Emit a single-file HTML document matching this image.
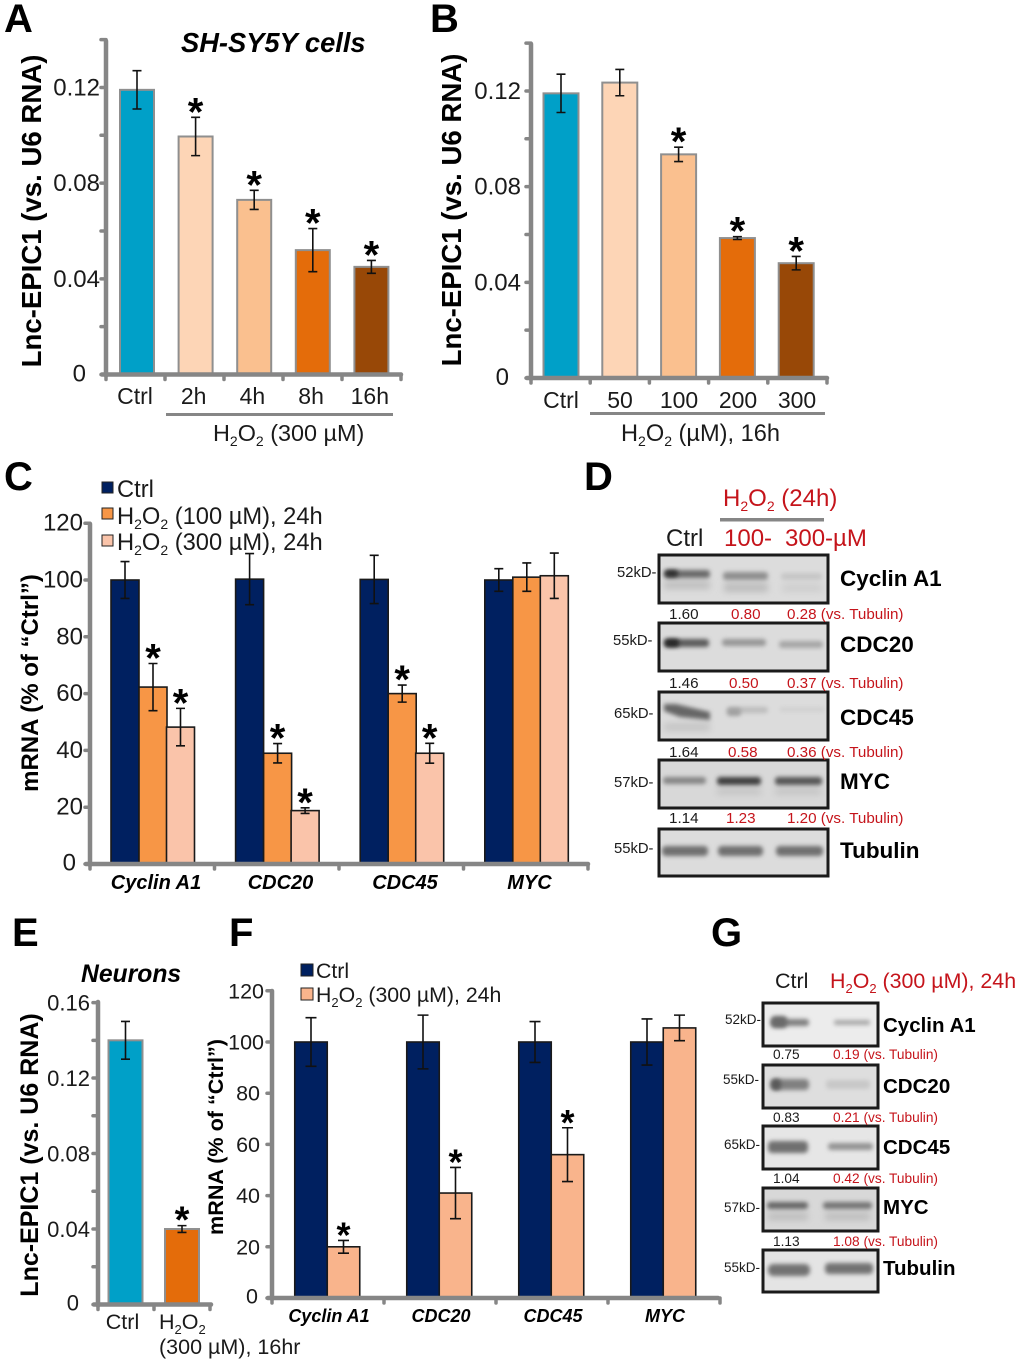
<!DOCTYPE html>
<html lang="en">
<head>
<meta charset="utf-8">
<title>Lnc-EPIC1 figure</title>
<style>
html,body{margin:0;padding:0;background:#fff;width:1020px;height:1363px;overflow:hidden}
svg{display:block}
text{font-family:"Liberation Sans",Arial,sans-serif;fill:#1a1a1a}
.p{font-size:40px;font-weight:bold;fill:#000}
.b{font-weight:bold;fill:#000}
.r{fill:#c5141b}
</style>
</head>
<body>
<svg id="fig" xmlns="http://www.w3.org/2000/svg" width="1020" height="1363" viewBox="0 0 1020 1363">
<defs>
<filter id="b1" filterUnits="userSpaceOnUse" x="0" y="0" width="1020" height="1363"><feGaussianBlur stdDeviation="2.2"/></filter>
<filter id="b2" filterUnits="userSpaceOnUse" x="0" y="0" width="1020" height="1363"><feGaussianBlur stdDeviation="3.5"/></filter>
</defs>

<!-- panel letters -->
<text class="p" x="4" y="32">A</text>
<text class="p" x="430" y="32">B</text>
<text class="p" x="4" y="490">C</text>
<text class="p" x="584" y="490">D</text>
<text class="p" x="12" y="946">E</text>
<text class="p" x="229" y="946">F</text>
<text class="p" x="711" y="946">G</text>

<!-- titles and annotations -->
<text class="b" x="181" y="52" font-size="27.3" font-style="italic">SH-SY5Y cells</text>
<text class="b" x="81" y="982" font-size="24.7" font-style="italic">Neurons</text>
<text class="b" font-size="27.6" text-anchor="middle" transform="translate(41,211) rotate(-90)">Lnc-EPIC1 (vs. U6 RNA)</text>
<text class="b" font-size="27.6" text-anchor="middle" transform="translate(461,210) rotate(-90)">Lnc-EPIC1 (vs. U6 RNA)</text>
<text class="b" font-size="24" text-anchor="middle" transform="translate(38,683) rotate(-90)">mRNA (% of “Ctrl”)</text>
<text class="b" font-size="25" text-anchor="middle" transform="translate(38,1155) rotate(-90)">Lnc-EPIC1 (vs. U6 RNA)</text>
<text class="b" font-size="21.6" text-anchor="middle" transform="translate(223,1137) rotate(-90)">mRNA (% of “Ctrl”)</text>

<rect x="166" y="413" width="227" height="3" fill="#868686"/>
<text x="213" y="441" font-size="23.4">H<tspan dy="5" font-size="14">2</tspan><tspan dy="-5">O</tspan><tspan dy="5" font-size="14">2</tspan><tspan dy="-5"> (300 µM)</tspan></text>
<rect x="590" y="412" width="235" height="3" fill="#868686"/>
<text x="621" y="441" font-size="23.6">H<tspan dy="5" font-size="14">2</tspan><tspan dy="-5">O</tspan><tspan dy="5" font-size="14">2</tspan><tspan dy="-5"> (µM), 16h</tspan></text>
<text x="159" y="1329" font-size="21.5">H<tspan dy="5" font-size="13">2</tspan><tspan dy="-5">O</tspan><tspan dy="5" font-size="13">2</tspan></text>
<text x="159" y="1354" font-size="21.5">(300 µM), 16hr</text>

<!-- legends -->
<g>
<rect x="102" y="482" width="11" height="11" fill="#002060" stroke="#222" stroke-width="1"/>
<text x="117" y="497" font-size="23.7">Ctrl</text>
<rect x="102" y="508" width="11" height="11" fill="#f79646" stroke="#222" stroke-width="1"/>
<text x="117" y="524" font-size="23.7">H<tspan dy="5" font-size="14">2</tspan><tspan dy="-5">O</tspan><tspan dy="5" font-size="14">2</tspan><tspan dy="-5"> (100 µM), 24h</tspan></text>
<rect x="102" y="535" width="11" height="11" fill="#fac4aa" stroke="#222" stroke-width="1"/>
<text x="117" y="550" font-size="23.7">H<tspan dy="5" font-size="14">2</tspan><tspan dy="-5">O</tspan><tspan dy="5" font-size="14">2</tspan><tspan dy="-5"> (300 µM), 24h</tspan></text>
</g>
<g>
<rect x="301" y="964" width="12" height="12" fill="#002060" stroke="#222" stroke-width="1"/>
<text x="316" y="978" font-size="21.3">Ctrl</text>
<rect x="301" y="988" width="12" height="12" fill="#f9b48c" stroke="#222" stroke-width="1"/>
<text x="316" y="1002" font-size="21.3">H<tspan dy="5" font-size="13">2</tspan><tspan dy="-5">O</tspan><tspan dy="5" font-size="13">2</tspan><tspan dy="-5"> (300 µM), 24h</tspan></text>
</g>

<!-- Panel D: western blot -->
<g>
<text class="r" x="723" y="506" font-size="24">H<tspan dy="5" font-size="14">2</tspan><tspan dy="-5">O</tspan><tspan dy="5" font-size="14">2</tspan><tspan dy="-5"> (24h)</tspan></text>
<rect x="720" y="518" width="104" height="3.5" fill="#868686"/>
<text x="666" y="546" font-size="24">Ctrl</text>
<text class="r" x="724" y="546" font-size="24">100-</text>
<text class="r" x="785" y="546" font-size="24">300-µM</text>

<g>
<rect x="659" y="555" width="169" height="48" fill="#dcdcdc"/>
<rect x="664" y="581" width="46" height="8" fill="#bdbdbd" filter="url(#b2)"/>
<rect x="724" y="583" width="44" height="9" fill="#bcbcbc" filter="url(#b2)"/>
<rect x="782" y="584" width="40" height="8" fill="#cecece" filter="url(#b2)"/>
<rect x="664" y="570" width="46" height="8" rx="3" fill="#6b6b6b" filter="url(#b1)"/>
<rect x="665" y="570" width="13" height="7" rx="3" fill="#2e2e2e" filter="url(#b1)"/>
<rect x="723" y="572" width="45" height="8" rx="3" fill="#8f8f8f" filter="url(#b1)"/>
<rect x="781" y="573" width="41" height="7" rx="3" fill="#c6c6c6" filter="url(#b1)"/>
<rect x="659" y="555" width="169" height="48" fill="none" stroke="#1a1a1a" stroke-width="3"/>
</g>
<g>
<rect x="659" y="623" width="169" height="48" fill="#dcdcdc"/>
<rect x="664" y="639" width="45" height="8" rx="3" fill="#5c5c5c" filter="url(#b1)"/>
<rect x="665" y="639" width="14" height="8" rx="3" fill="#262626" filter="url(#b1)"/>
<rect x="722" y="639" width="44" height="7" rx="3" fill="#969696" filter="url(#b1)"/>
<rect x="779" y="641" width="44" height="7" rx="3" fill="#a6a6a6" filter="url(#b1)"/>
<rect x="659" y="623" width="169" height="48" fill="none" stroke="#1a1a1a" stroke-width="3"/>
</g>
<g>
<rect x="659" y="692" width="169" height="48" fill="#dcdcdc"/>
<rect x="664" y="723" width="46" height="8" fill="#c4c4c4" filter="url(#b2)"/>
<polygon points="664,704 676,704 710,712 710,720 680,717 664,711" fill="#666" filter="url(#b1)"/>
<rect x="727" y="707" width="41" height="6" rx="3" fill="#bcbcbc" filter="url(#b1)"/>
<rect x="727" y="708" width="14" height="8" rx="3" fill="#a0a0a0" filter="url(#b1)"/>
<rect x="780" y="707" width="44" height="5" rx="2" fill="#d0d0d0" filter="url(#b1)"/>
<rect x="659" y="692" width="169" height="48" fill="none" stroke="#1a1a1a" stroke-width="3"/>
</g>
<g>
<rect x="659" y="760" width="169" height="48" fill="#d8d8d8"/>
<rect x="717" y="788" width="44" height="7" fill="#c4c4c4" filter="url(#b2)"/>
<rect x="775" y="788" width="46" height="7" fill="#c4c4c4" filter="url(#b2)"/>
<rect x="663" y="777" width="43" height="7" rx="3" fill="#858585" filter="url(#b1)"/>
<rect x="717" y="777" width="44" height="8" rx="3" fill="#404040" filter="url(#b1)"/>
<rect x="775" y="777" width="47" height="8" rx="3" fill="#565656" filter="url(#b1)"/>
<rect x="659" y="760" width="169" height="48" fill="none" stroke="#1a1a1a" stroke-width="3"/>
</g>
<g>
<rect x="659" y="829" width="169" height="47" fill="#dcdcdc"/>
<rect x="662" y="846" width="46" height="10" rx="4" fill="#707070" filter="url(#b1)"/>
<rect x="718" y="846" width="45" height="10" rx="4" fill="#707070" filter="url(#b1)"/>
<rect x="776" y="846" width="47" height="10" rx="4" fill="#707070" filter="url(#b1)"/>
<rect x="659" y="829" width="169" height="47" fill="none" stroke="#1a1a1a" stroke-width="3"/>
</g>

<g font-size="14.8">
<text x="617" y="577">52kD-</text>
<text x="613" y="645">55kD-</text>
<text x="614" y="718">65kD-</text>
<text x="614" y="787">57kD-</text>
<text x="614" y="853">55kD-</text>
</g>
<g font-size="15.2">
<text x="669" y="619">1.60</text>
<text class="r" x="731" y="619">0.80</text>
<text class="r" x="787" y="619">0.28 (vs. Tubulin)</text>
<text x="669" y="688">1.46</text>
<text class="r" x="729" y="688">0.50</text>
<text class="r" x="787" y="688">0.37 (vs. Tubulin)</text>
<text x="669" y="757">1.64</text>
<text class="r" x="728" y="757">0.58</text>
<text class="r" x="787" y="757">0.36 (vs. Tubulin)</text>
<text x="669" y="823">1.14</text>
<text class="r" x="726" y="823">1.23</text>
<text class="r" x="787" y="823">1.20 (vs. Tubulin)</text>
</g>
<g font-size="22.5">
<text class="b" x="840" y="586">Cyclin A1</text>
<text class="b" x="840" y="652">CDC20</text>
<text class="b" x="840" y="725">CDC45</text>
<text class="b" x="840" y="789">MYC</text>
<text class="b" x="840" y="858">Tubulin</text>
</g>
</g>

<!-- Panel G: western blot -->
<g>
<text x="775" y="988" font-size="21.5">Ctrl</text>
<text class="r" x="830" y="988" font-size="21.4">H<tspan dy="5" font-size="13">2</tspan><tspan dy="-5">O</tspan><tspan dy="5" font-size="13">2</tspan><tspan dy="-5"> (300 µM), 24h</tspan></text>

<g>
<rect x="763" y="1003" width="115" height="43" fill="#ececec"/>
<rect x="771" y="1019" width="38" height="7" rx="3" fill="#7f7f7f" filter="url(#b1)"/>
<rect x="771" y="1016" width="16" height="12" rx="4" fill="#6a6a6a" filter="url(#b1)"/>
<rect x="834" y="1020" width="36" height="5" rx="2" fill="#a8a8a8" filter="url(#b1)"/>
<rect x="763" y="1003" width="115" height="43" fill="none" stroke="#1a1a1a" stroke-width="3"/>
</g>
<g>
<rect x="763" y="1065" width="115" height="43" fill="#dedede"/>
<rect x="771" y="1079" width="38" height="11" rx="4" fill="#808080" filter="url(#b1)"/>
<rect x="771" y="1079" width="10" height="11" rx="4" fill="#585858" filter="url(#b1)"/>
<rect x="826" y="1080" width="44" height="9" rx="3" fill="#c8c8c8" filter="url(#b1)"/>
<rect x="763" y="1065" width="115" height="43" fill="none" stroke="#1a1a1a" stroke-width="3"/>
</g>
<g>
<rect x="763" y="1126" width="115" height="43" fill="#e6e6e6"/>
<rect x="768" y="1141" width="40" height="12" rx="4" fill="#707070" filter="url(#b1)"/>
<rect x="828" y="1143" width="45" height="7" rx="3" fill="#939393" filter="url(#b1)"/>
<rect x="763" y="1126" width="115" height="43" fill="none" stroke="#1a1a1a" stroke-width="3"/>
</g>
<g>
<rect x="763" y="1188" width="115" height="43" fill="#d8d8d8"/>
<rect x="768" y="1213" width="40" height="7" fill="#bbb" filter="url(#b2)"/>
<rect x="825" y="1213" width="45" height="7" fill="#bbb" filter="url(#b2)"/>
<rect x="767" y="1202" width="41" height="7" rx="3" fill="#666" filter="url(#b1)"/>
<rect x="823" y="1202" width="49" height="7" rx="3" fill="#757575" filter="url(#b1)"/>
<rect x="763" y="1188" width="115" height="43" fill="none" stroke="#1a1a1a" stroke-width="3"/>
</g>
<g>
<rect x="763" y="1250" width="115" height="42" fill="#e4e4e4"/>
<rect x="768" y="1264" width="42" height="12" rx="5" fill="#727272" filter="url(#b1)"/>
<rect x="825" y="1263" width="48" height="11" rx="4" fill="#727272" filter="url(#b1)"/>
<rect x="763" y="1250" width="115" height="42" fill="none" stroke="#1a1a1a" stroke-width="3"/>
</g>

<g font-size="13.5">
<text x="725" y="1024">52kD-</text>
<text x="723" y="1084">55kD-</text>
<text x="724" y="1149">65kD-</text>
<text x="724" y="1212">57kD-</text>
<text x="724" y="1272">55kD-</text>
</g>
<g font-size="13.7">
<text x="773" y="1059">0.75</text>
<text class="r" x="833" y="1059">0.19 (vs. Tubulin)</text>
<text x="773" y="1122">0.83</text>
<text class="r" x="833" y="1122">0.21 (vs. Tubulin)</text>
<text x="773" y="1183">1.04</text>
<text class="r" x="833" y="1183">0.42 (vs. Tubulin)</text>
<text x="773" y="1246">1.13</text>
<text class="r" x="833" y="1246">1.08 (vs. Tubulin)</text>
</g>
<g font-size="20.5">
<text class="b" x="883" y="1032">Cyclin A1</text>
<text class="b" x="883" y="1093">CDC20</text>
<text class="b" x="883" y="1154">CDC45</text>
<text class="b" x="883" y="1214">MYC</text>
<text class="b" x="883" y="1275">Tubulin</text>
</g>
</g>
<g id="charts"></g>
</svg>

<script>
/* Panel A */
var aCategories = ['Ctrl', '2h', '4h', '8h', '16h'];
var aValues = [0.119, 0.0995, 0.073, 0.052, 0.045];
var aErrors = [0.008, 0.008, 0.004, 0.009, 0.0027];
var aStars = [false, true, true, true, true];
var aTicks = ['0', '0.04', '0.08', '0.12'];
var aTickValues = [0, 0.04, 0.08, 0.12];

/* Panel B */
var bCategories = ['Ctrl', '50', '100', '200', '300'];
var bValues = [0.119, 0.1235, 0.0935, 0.0585, 0.048];
var bErrors = [0.008, 0.0055, 0.003, 0.0006, 0.0028];
var bStars = [false, false, true, true, true];
var bTicks = ['0', '0.04', '0.08', '0.12'];
var bTickValues = [0, 0.04, 0.08, 0.12];

/* Panel C */
var cCategories = ['Cyclin A1', 'CDC20', 'CDC45', 'MYC'];
var cCtrl = [100, 100.3, 100.2, 100];
var cCtrlErr = [6.5, 9, 8.5, 4];
var c100 = [62.3, 39, 60, 101];
var c100Err = [8.3, 3.4, 3, 5];
var c100Stars = [true, true, true, false];
var c300 = [48.2, 18.8, 39, 101.5];
var c300Err = [6.6, 1, 3.5, 8];
var c300Stars = [true, true, true, false];
var cTicks = ['0', '20', '40', '60', '80', '100', '120'];
var cTickValues = [0, 20, 40, 60, 80, 100, 120];

/* Panel E */
var eCategories = ['Ctrl', ''];
var eValues = [0.14, 0.04];
var eErrors = [0.01, 0.0018];
var eStars = [false, true];
var eTicks = ['0', '0.04', '0.08', '0.12', '0.16'];
var eTickValues = [0, 0.04, 0.08, 0.12, 0.16];

/* Panel F */
var fCategories = ['Cyclin A1', 'CDC20', 'CDC45', 'MYC'];
var fCtrl = [100, 100, 100, 100];
var fCtrlErr = [9.5, 10.5, 8, 9];
var f300 = [20, 41, 56, 105.5];
var f300Err = [2.5, 10, 10.5, 5];
var f300Stars = [true, true, true, false];
var fTicks = ['0', '20', '40', '60', '80', '100', '120'];
var fTickValues = [0, 20, 40, 60, 80, 100, 120];

var SVGNS = 'http://www.w3.org/2000/svg';
var root = document.getElementById('charts');

function make(parent, tag, attrs) {
  var el = document.createElementNS(SVGNS, tag);
  for (var k in attrs) el.setAttribute(k, attrs[k]);
  parent.appendChild(el);
  return el;
}

function drawYAxis(g, ax, ticks, values, minorStep) {
  var v = 0;
  while (v <= ax.max + 1e-9) {
    var yy = ax.y(v);
    var tick = make(g, 'line', {x1: ax.x - 5, x2: ax.x, y1: yy, y2: yy, stroke: '#868686', 'stroke-width': 3.5, 'stroke-linecap': 'round'});
    
    
    v += minorStep;
  }
  var line = make(g, 'line', {x1: ax.x, x2: ax.x, y1: ax.top, y2: ax.y0 + 1, stroke: '#868686', 'stroke-width': ax.sw, 'stroke-linecap': 'round'});
  
  
  for (var i = 0; i < ticks.length; i++) {
    var lx = ax.labelX;
    var ly = ax.y(values[i]) + ax.labelDy;
    if (ticks[i] === '0') {
      lx += ax.zeroDx;
      ly += ax.zeroDy;
    } else if (ticks[i].length === 2) {
      lx += ax.shortDx;
    }
    var t = make(g, 'text', {x: lx, y: ly, 'font-size': ax.fs, 'text-anchor': 'end'});
    t.textContent = ticks[i];
    
    
  }
}

function drawXAxis(g, ax) {
  var line = make(g, 'line', {x1: ax.xStart, x2: ax.xEnd, y1: ax.y0, y2: ax.y0, stroke: '#868686', 'stroke-width': ax.sw, 'stroke-linecap': 'round'});
  
  
  for (var i = 0; i <= ax.n; i++) {
    var xx = ax.x + i * ax.step;
    var tick = make(g, 'line', {x1: xx, x2: xx, y1: ax.y0, y2: ax.y0 + 5, stroke: '#868686', 'stroke-width': 3.5, 'stroke-linecap': 'round'});
    
    
  }
}

function drawBar(g, ax, cx, w, val, err, fill, stroke, star, name) {
  var top = ax.y(val);
  var r = make(g, 'rect', {x: cx - w / 2, y: top, width: w, height: ax.y0 - top - 1, fill: fill, stroke: stroke, 'stroke-width': ax.barSw});
  
  
  var hi = ax.y(val + err), lo = ax.y(val - err), cap = ax.cap;
  var e = make(g, 'path', {d: 'M' + cx + ' ' + hi + 'V' + lo + 'M' + (cx - cap) + ' ' + hi + 'H' + (cx + cap) + 'M' + (cx - cap) + ' ' + lo + 'H' + (cx + cap), stroke: '#111', 'stroke-width': 1.6, fill: 'none'});
  
  
  if (star) {
    var s = make(g, 'text', {x: cx, y: hi + ax.starDy, 'font-size': ax.starFs, 'text-anchor': 'middle', 'font-weight': 'bold'});
    s.style.fill = '#000';
    s.textContent = '*';
    
    
  }
}

function panelGroup(name) {
  var g = make(root, 'g', {});
  
  
  return g;
}

function makeAxis(o) {
  o.y = function (v) { return o.y0 - v * o.k; };
  return o;
}

function drawXLabels(g, cats, centerFn, y, fs, extra, name) {
  for (var i = 0; i < cats.length; i++) {
    if (!cats[i]) continue;
    var t = make(g, 'text', {x: centerFn(i), y: y, 'font-size': fs, 'text-anchor': 'middle'});
    if (extra) {
      t.setAttribute('font-weight', 'bold');
      t.setAttribute('font-style', 'italic');
      t.style.fill = '#000';
    }
    t.textContent = cats[i];
    
    
  }
}

/* ---- A ---- */
var colorsGraded = ['#00a0c8', '#fdd5b6', '#fac08f', '#e46c0a', '#984807'];
var gA = panelGroup('panel-a-chart');
var axA = makeAxis({x: 106, y0: 374.5, top: 41, k: 2392, max: 0.14, sw: 4.5, labelX: 100, labelDy: 8, zeroDx: -14, zeroDy: -1, shortDx: 0, fs: 24, xStart: 102, xEnd: 401, n: 5, step: 59, barSw: 2, cap: 4.5, starDy: 8, starFs: 40});
drawYAxis(gA, axA, aTicks, aTickValues, 0.02);
aValues.forEach(function (v, i) {
  drawBar(gA, axA, 137 + i * 58.6, 34, v, aErrors[i], colorsGraded[i], '#8f8f8f', aStars[i], 'bar-' + aCategories[i].toLowerCase());
});
drawXAxis(gA, axA);
drawXLabels(gA, aCategories, function (i) { return 135 + i * 58.7; }, 404, 23, false, 'x-axis-category-label');

/* ---- B ---- */
var gB = panelGroup('panel-b-chart');
var axB = makeAxis({x: 531, y0: 378, top: 44, k: 2392, max: 0.14, sw: 4.5, labelX: 521, labelDy: 8, zeroDx: -12, zeroDy: -1, shortDx: 0, fs: 24, xStart: 527, xEnd: 827, n: 5, step: 59.2, barSw: 2, cap: 4.5, starDy: 8, starFs: 40});
drawYAxis(gB, axB, bTicks, bTickValues, 0.02);
bValues.forEach(function (v, i) {
  drawBar(gB, axB, 561 + i * 58.8, 35, v, bErrors[i], colorsGraded[i], '#8f8f8f', bStars[i], 'bar-' + bCategories[i].toLowerCase());
});
drawXAxis(gB, axB);
drawXLabels(gB, bCategories, function (i) { return 561 + i * 59; }, 408, 23, false, 'x-axis-category-label');

/* ---- C ---- */
var gC = panelGroup('panel-c-chart');
var axC = makeAxis({x: 90, y0: 864, top: 524, k: 2.84, max: 120, sw: 4.5, labelX: 83, labelDy: 7.5, zeroDx: -7, zeroDy: -1, shortDx: 0, fs: 24, xStart: 86, xEnd: 588, n: 4, step: 124.5, barSw: 1.6, cap: 4.5, starDy: 8, starFs: 40});
drawYAxis(gC, axC, cTicks, cTickValues, 20);
cCategories.forEach(function (c, i) {
  var gx = 125 + i * 124.6;
  var w = 28, slug = c.toLowerCase().replace(' ', '-');
  drawBar(gC, axC, gx, w, cCtrl[i], cCtrlErr[i], '#002060', '#1a1a1a', false, 'bar-ctrl-' + slug);
  drawBar(gC, axC, gx + w, w, c100[i], c100Err[i], '#f79646', '#1a1a1a', c100Stars[i], 'bar-100um-' + slug);
  drawBar(gC, axC, gx + 2 * w - 0.5, w, c300[i], c300Err[i], '#fac4aa', '#1a1a1a', c300Stars[i], 'bar-300um-' + slug);
});
drawXAxis(gC, axC);
drawXLabels(gC, cCategories, function (i) { return 156 + i * 124.5; }, 889, 20, true, 'x-axis-category-label');

/* ---- E ---- */
var colorsE = ['#00a0c8', '#e46c0a'];
var gE = panelGroup('panel-e-chart');
var axE = makeAxis({x: 98, y0: 1304.5, top: 1002, k: 1887, max: 0.16, sw: 4.5, labelX: 90, labelDy: 8, zeroDx: -11, zeroDy: -2, shortDx: 0, fs: 22, xStart: 94, xEnd: 211, n: 2, step: 56, barSw: 2, cap: 4.5, starDy: 7, starFs: 38});
drawYAxis(gE, axE, eTicks, eTickValues, 0.02);
eValues.forEach(function (v, i) {
  drawBar(gE, axE, 125.5 + i * 56.5, 34, v, eErrors[i], colorsE[i], '#8f8f8f', eStars[i], i === 0 ? 'bar-ctrl' : 'bar-h2o2');
});
drawXAxis(gE, axE);
drawXLabels(gE, eCategories, function (i) { return 122.5 + i * 58; }, 1329, 21.5, false, 'x-axis-category-label');

/* ---- F ---- */
var gF = panelGroup('panel-f-chart');
var axF = makeAxis({x: 272, y0: 1298, top: 991, k: 2.56, max: 120, sw: 4.5, labelX: 264, labelDy: 7.5, zeroDx: -6, zeroDy: -2, shortDx: -4, fs: 21.5, xStart: 268, xEnd: 718, n: 4, step: 112, barSw: 1.6, cap: 5.5, starDy: 7, starFs: 36});
drawYAxis(gF, axF, fTicks, fTickValues, 20);
fCategories.forEach(function (c, i) {
  var gx = 311 + i * 112;
  var w = 32.5, slug = c.toLowerCase().replace(' ', '-');
  drawBar(gF, axF, gx, w, fCtrl[i], fCtrlErr[i], '#002060', '#1a1a1a', false, 'bar-ctrl-' + slug);
  drawBar(gF, axF, gx + w, w, f300[i], f300Err[i], '#f9b48c', '#1a1a1a', f300Stars[i], 'bar-300um-' + slug);
});
drawXAxis(gF, axF);
drawXLabels(gF, fCategories, function (i) { return 329 + i * 112; }, 1322, 18, true, 'x-axis-category-label');
</script>
</body>
</html>
